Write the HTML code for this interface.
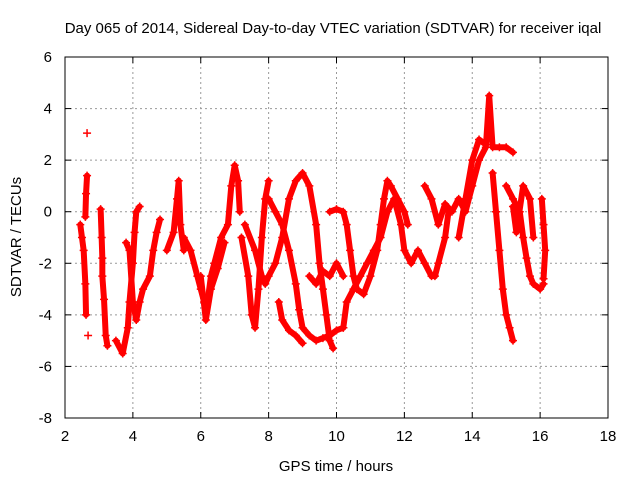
<!DOCTYPE html>
<html><head><meta charset="utf-8"><style>
body{margin:0;background:#fff}
svg text{font-family:"Liberation Sans",sans-serif;font-size:15px;fill:#000}
</style></head><body>
<svg id="chart" width="640" height="480" xmlns="http://www.w3.org/2000/svg">
<rect width="640" height="480" fill="#fff"/>
<text x="333" y="33" text-anchor="middle">Day 065 of 2014, Sidereal Day-to-day VTEC variation (SDTVAR) for receiver iqal</text>
<g id="grid"></g>
<g id="marks"></g>
<rect x="65" y="57" width="543" height="361" fill="none" stroke="#000" stroke-width="1"/>
<text x="336" y="471" text-anchor="middle">GPS time / hours</text>
<text transform="translate(21,237) rotate(-90)" text-anchor="middle">SDTVAR / TECUs</text>
</svg>
<script>
const xTicks=[2,4,6,8,10,12,14,16,18];
const yTicks=[6,4,2,0,-2,-4,-6,-8];
const trackA=[[2.45,-0.5],[2.5,-1],[2.55,-1.5],[2.6,-2.8],[2.62,-4]];
const trackB1=[[2.65,3.05]];
const trackB2=[[2.65,1.4],[2.62,0.7],[2.6,-0.2]];
const trackB3=[[2.68,-4.8]];
const trackC=[[3.05,0.1],[3.08,-1],[3.1,-1.8],[3.1,-2.5],[3.15,-3.4],[3.2,-4.8],[3.25,-5.2]];
const trackD=[[3.5,-5],[3.7,-5.5],[3.85,-4.5],[3.9,-3.5],[4.0,-2],[4.05,-0.8],[4.1,0],[4.2,0.2]];
const trackE=[[3.8,-1.2],[3.9,-1.5],[4.0,-3.5],[4.1,-4.2],[4.2,-3.5],[4.3,-3],[4.5,-2.5],[4.6,-1.5],[4.7,-0.8],[4.8,-0.3]];
const trackF=[[5.0,-1.5],[5.2,-0.8],[5.3,0.5],[5.35,1.2],[5.4,-0.5],[5.5,-1.5]];
const trackG=[[5.5,-1],[5.7,-1.5],[5.9,-2.5],[6.0,-3],[6.1,-3.5],[6.2,-3.5],[6.3,-2.5],[6.4,-2],[6.6,-1],[6.8,-0.5],[6.9,1],[7.0,1.8],[7.1,1.2],[7.15,0]];
const trackH=[[6.0,-2.5],[6.15,-4.2],[6.3,-3],[6.5,-2.2],[6.7,-1.2]];
const trackI=[[7.2,-1],[7.4,-2.5],[7.5,-4],[7.6,-4.5],[7.7,-3],[7.8,-1],[7.9,0.5],[8.0,1.2]];
const trackJ=[[7.3,-0.5],[7.6,-1.5],[7.8,-2.5],[7.9,-2.8],[8.0,-2.5],[8.2,-2],[8.4,-1],[8.6,0.5],[8.8,1.2],[9.0,1.5],[9.2,1.0],[9.4,-0.5],[9.5,-2],[9.6,-3],[9.7,-4],[9.8,-5],[9.9,-5.3]];
const trackK=[[8.0,0.5],[8.2,0],[8.4,-0.5],[8.6,-1.5],[8.8,-2.8],[8.9,-3.8],[9.0,-4.5],[9.2,-4.8],[9.4,-5],[9.6,-4.9],[9.8,-4.8],[10.0,-4.6],[10.2,-4.5]];
const trackL=[[8.3,-3.5],[8.4,-4.2],[8.6,-4.6],[8.8,-4.8],[9.0,-5.1]];
const trackM=[[9.2,-2.5],[9.4,-2.8],[9.6,-2.3],[9.8,-2.5],[10.0,-2.0],[10.2,-2.5]];
const trackN=[[9.8,0],[10.0,0.1],[10.2,0],[10.3,-0.5],[10.4,-1.5],[10.5,-2.5],[10.6,-3],[10.8,-3.2],[11.0,-2.5],[11.2,-1.5],[11.3,-0.5],[11.4,0.5],[11.5,1.2],[11.6,1.0],[11.8,0.5],[12.0,0],[12.1,-0.5]];
const trackO=[[10.2,-4.5],[10.3,-3.5],[10.5,-3],[10.7,-2.5],[10.9,-2],[11.1,-1.5],[11.3,-1],[11.5,0],[11.7,0.5],[11.9,-0.5],[12.0,-1.5],[12.2,-2],[12.4,-1.5],[12.6,-2],[12.8,-2.5],[12.9,-2.5],[13.0,-2],[13.2,-1],[13.3,0]];
const trackP=[[12.6,1],[12.8,0.5],[13.0,-0.5],[13.2,0.3],[13.4,0],[13.6,0.5],[13.8,0],[14.0,1],[14.2,2],[14.4,2.5],[14.5,4.5],[14.6,2.5],[14.8,2.5],[15.0,2.5],[15.2,2.3]];
const trackQ=[[14.6,1.5],[14.7,0],[14.8,-1.5],[14.9,-3],[15.0,-4],[15.1,-4.5],[15.2,-5]];
const trackR=[[15.0,1],[15.2,0.5],[15.4,0],[15.5,-1],[15.6,-1.8],[15.7,-2.5],[15.8,-2.8],[16.0,-3],[16.1,-2.8]];
const trackS=[[15.2,0.2],[15.3,-0.8],[15.5,1],[15.7,0.5],[15.8,-1]];
const trackT=[[16.05,0.5],[16.1,-0.5],[16.15,-1.5],[16.1,-2.6]];
const trackU=[[13.6,-1],[13.8,0.5],[14.0,2],[14.2,2.8],[14.4,2.6]];
const tracks=[trackA,trackB1,trackB2,trackB3,trackC,trackD,trackE,trackF,trackG,trackH,trackI,trackJ,trackK,trackL,trackM,trackN,trackO,trackP,trackQ,trackR,trackS,trackT,trackU];

const NS="http://www.w3.org/2000/svg";
const X0=65,X1=608,Y0=418,Y1=57;
function sx(h){return X0+(h-2)/16*(X1-X0);}
function sy(v){return Y0-(v+8)/14*(Y0-Y1);}
const grid=document.getElementById('grid'),marks=document.getElementById('marks');
function mk(tag,attrs,parent){const e=document.createElementNS(NS,tag);for(const k in attrs)e.setAttribute(k,attrs[k]);parent.appendChild(e);return e;}
xTicks.forEach(t=>{const x=sx(t);
 if(t>2&&t<18){const g=mk('line',{x1:x,x2:x,y1:Y1,y2:Y0,stroke:'#999','stroke-dasharray':'2,3'},grid);
 
 }
 mk('line',{x1:x,x2:x,y1:Y0,y2:Y0-6,stroke:'#000'},grid);
 mk('line',{x1:x,x2:x,y1:Y1,y2:Y1+6,stroke:'#000'},grid);
 const l=mk('text',{x:x,y:441,'text-anchor':'middle'},grid);l.textContent=t;
 
 });
yTicks.forEach(t=>{const y=sy(t);
 if(t>-8&&t<6){const g=mk('line',{x1:X0,x2:X1,y1:y,y2:y,stroke:'#999','stroke-dasharray':'2,3'},grid);
 
 }
 mk('line',{x1:X0,x2:X0+6,y1:y,y2:y,stroke:'#000'},grid);
 mk('line',{x1:X1,x2:X1-6,y1:y,y2:y,stroke:'#000'},grid);
 const l=mk('text',{x:52,y:y+5,'text-anchor':'end'},grid);l.textContent=t;
 
 });
tracks.forEach(tr=>{
 const pl=mk('polyline',{points:tr.map(p=>sx(p[0])+','+sy(p[1])).join(' '),fill:'none',stroke:'#f00','stroke-width':6,'stroke-linejoin':'round','stroke-linecap':'round'},marks);
 
 
 tr.forEach(p=>{const x=sx(p[0]),y=sy(p[1]);
  const c=mk('path',{d:`M${x-4},${y}h8M${x},${y-4}v8`,stroke:'#f00','stroke-width':1.5},marks);
  
  });
});
</script>
</body></html>
